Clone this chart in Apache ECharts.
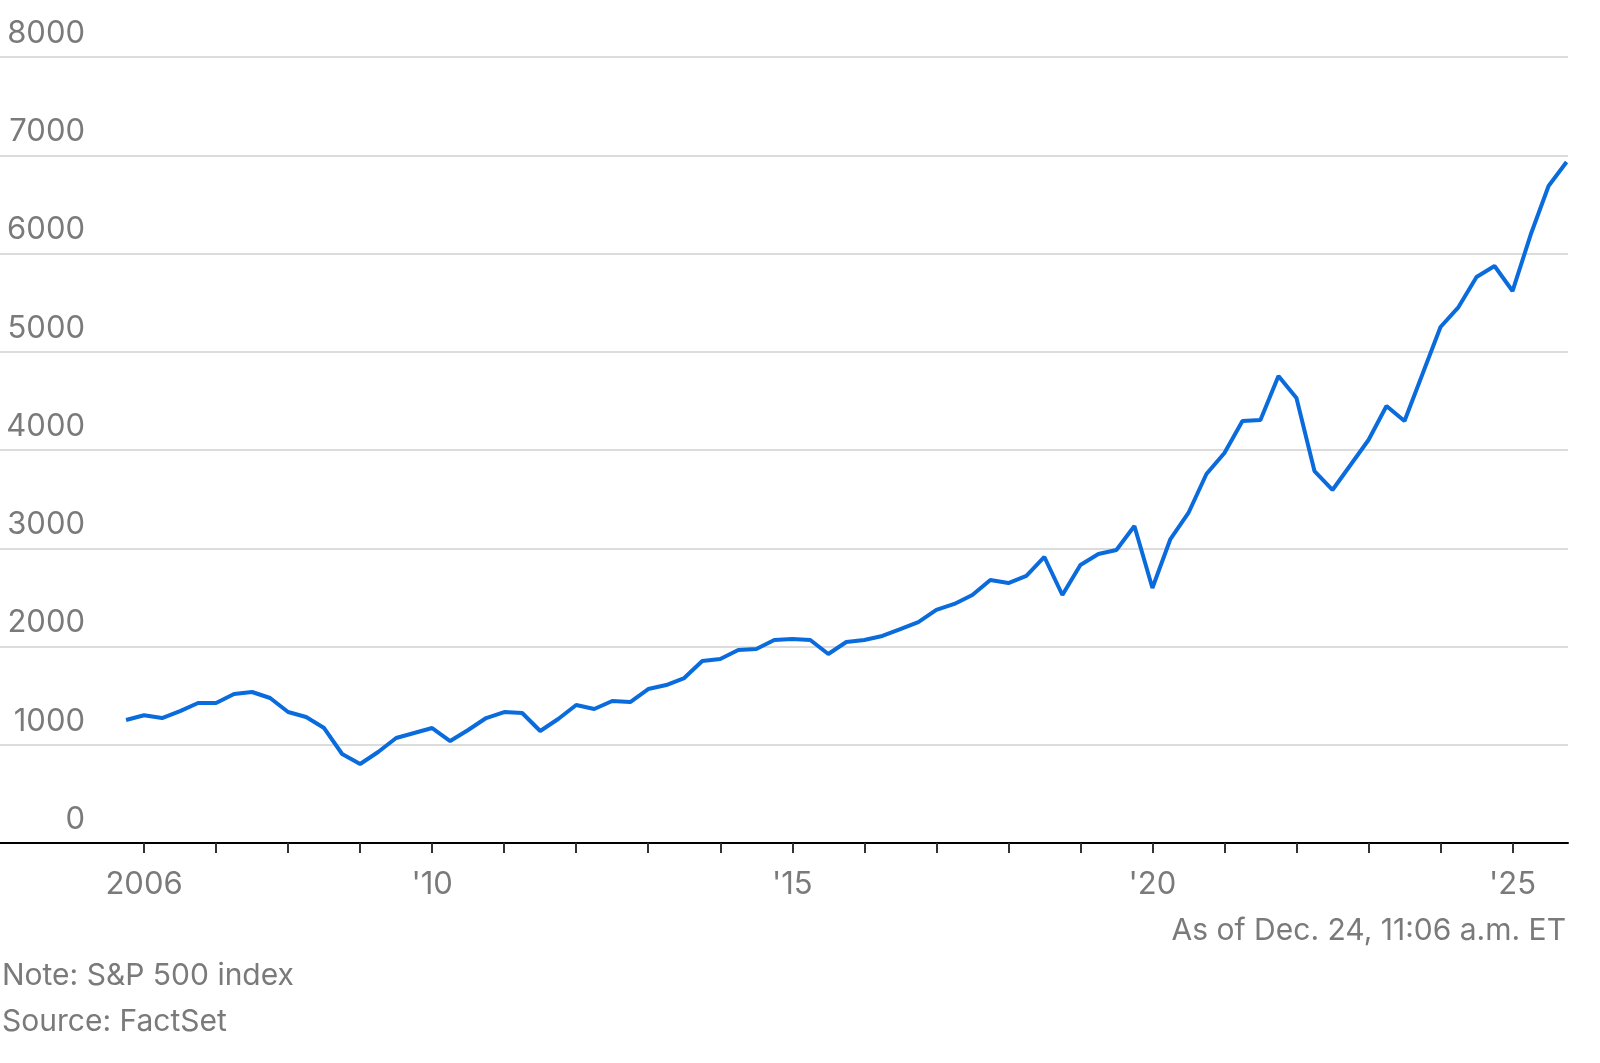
<!DOCTYPE html>
<html><head><meta charset="utf-8">
<script src="https://cdn.jsdelivr.net/npm/echarts@6/dist/echarts.min.js"></script>
<style>html,body{margin:0;padding:0;background:#fff}#c{width:1600px;height:1063px}</style>
</head><body><div id="c"></div>
<script>
const startYear = 2005.75;
const stepYears = 0.25;
const values = [1252,1300,1272,1343,1425,1425,1517,1537,1476,1333,1282,1170,906,804,926,1069,1120,1170,1038,1150,1272,1333,1323,1140,1262,1405,1364,1445,1435,1567,1608,1679,1852,1873,1964,1975,2066,2076,2066,1924,2046,2066,2107,2178,2249,2372,2433,2524,2677,2646,2718,2911,2524,2830,2941,2982,3226,2595,3094,3359,3756,3969,4295,4305,4753,4529,3786,3593,3847,4102,4448,4295,4773,5252,5455,5761,5873,5618,6188,6687,6931];
const xLabels = {2006:'2006',2010:"'10",2015:"'15",2020:"'20",2025:"'25"};
const tickYears = [2006,2007,2008,2009,2010,2011,2012,2013,2014,2015,2016,2017,2018,2019,2020,2021,2022,2023,2024,2025];
const yTicks = [0,1000,2000,3000,4000,5000,6000,7000,8000];
const data = values.map((v,i)=>[startYear+stepYears*i, v]);
const chart = echarts.init(document.getElementById('c'));
const grey = '#7a7a7a';
const font = 'Inter, Roboto, sans-serif';
chart.setOption({
  animation:false,
  grid:{left:-21,right:32,top:57,bottom:220,containLabel:false},
  xAxis:{type:'value',min:2004,max:2025.77,interval:1,
    axisLine:{lineStyle:{color:'#000',width:2}},
    axisTick:{show:true,length:10,lineStyle:{color:'#333',width:2},customValues:tickYears},
    splitLine:{show:false},
    axisLabel:{color:grey,fontSize:31,fontFamily:font,margin:26,
      customValues:Object.keys(xLabels).map(Number),
      formatter:v=>xLabels[Math.round(v)]||''}},
  yAxis:{type:'value',min:yTicks[0],max:yTicks[yTicks.length-1],interval:1000,
    axisLine:{show:false},axisTick:{show:false},
    splitLine:{lineStyle:{color:'#dcdcdc',width:2}},
    axisLabel:{color:grey,fontSize:31,fontFamily:font,formatter:v=>String(v),
      align:'right',verticalAlign:'bottom',margin:-85,padding:[0,0,8,0]}},
  series:[{type:'line',data:data,showSymbol:false,
    lineStyle:{color:'#0a6cdc',width:4},itemStyle:{color:'#0a6cdc'}}],
  graphic:[
    {type:'text',right:34,top:916,style:{text:'As of Dec. 24, 11:06 a.m. ET',fill:grey,fontSize:30,fontFamily:font}},
    {type:'text',left:2,top:961,style:{text:'Note: S&P 500 index',fill:grey,fontSize:30,fontFamily:font}},
    {type:'text',left:2,top:1007,style:{text:'Source: FactSet',fill:grey,fontSize:30,fontFamily:font}}
  ]
});
</script></body></html>
